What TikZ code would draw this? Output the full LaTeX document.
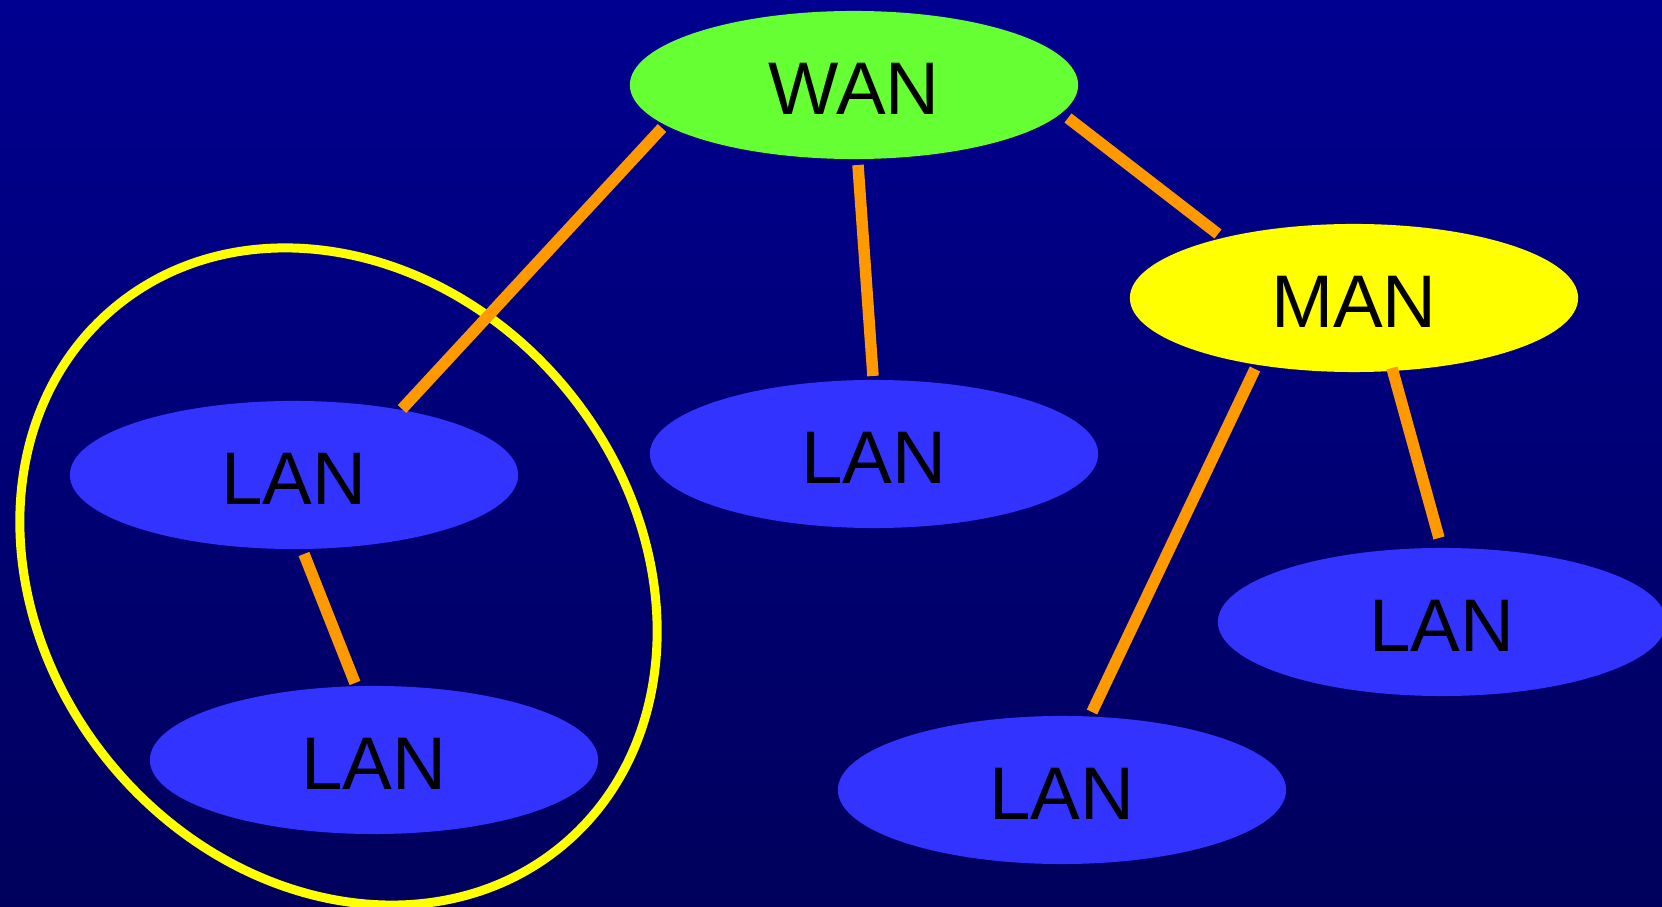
\documentclass[tikz,border=0pt]{standalone}
\usepackage{fontspec}
\setmainfont{Liberation Sans}
\usetikzlibrary{shapes.geometric}

\definecolor{bgtop}{RGB}{0,0,144}
\definecolor{bgbottom}{RGB}{0,0,92}
\definecolor{wangreen}{RGB}{102,255,51}
\definecolor{manyellow}{RGB}{255,255,0}
\definecolor{lanblue}{RGB}{51,51,255}
\definecolor{linkorange}{RGB}{255,153,0}
\definecolor{ringyellow}{RGB}{255,255,0}

\tikzset{
  net/.style={ellipse, draw=none, inner sep=0pt,
    minimum width=4.48cm, minimum height=1.48cm,
    text height=0.595cm, text depth=0pt,
    font=\fontsize{21.2}{25}\selectfont, text=black},
  wannet/.style={net, fill=wangreen},
  mannet/.style={net, fill=manyellow},
  lannet/.style={net, fill=lanblue},
  link/.style={draw=linkorange, line width=0.115cm},
  ring/.style={draw=ringyellow, line width=0.09cm}
}

\begin{document}
\begin{tikzpicture}[x=0.01cm, y=-0.01cm]
  % background
  \useasboundingbox (0,0) rectangle (1662,907);
  \fill[top color=bgtop, bottom color=bgbottom] (0,0) rectangle (1662,907);

  % networks
  \node[wannet] (wan)  at (854,85)   {WAN};
  \node[mannet] (man)  at (1354,298) {MAN};
  \node[lannet] (lana) at (294,475)  {LAN};
  \node[lannet] (lanb) at (874,454)  {LAN};
  \node[lannet] (lanc) at (374,760)  {LAN};
  \node[lannet] (land) at (1442,622) {LAN};
  \node[lannet] (lane) at (1062,790) {LAN};

  % tilted ring around the two grouped LANs
  \draw[ring] (338.5,576.5) ellipse [x radius=350, y radius=295, rotate=-50.2];

  % links
  \draw[link] ([shift={(-192,43)}]wan.center) -- ([shift={(108,-66)}]lana.center);
  \draw[link] ([shift={(4,80)}]wan.center)    -- ([shift={(-1,-78)}]lanb.center);
  \draw[link] ([shift={(214,33)}]wan.center)  -- ([shift={(-136,-64)}]man.center);
  \draw[link] ([shift={(-99,71)}]man.center)  -- ([shift={(30,-78)}]lane.center);
  \draw[link] ([shift={(38,70)}]man.center)   -- ([shift={(-3,-84)}]land.center);
  \draw[link] ([shift={(10,79)}]lana.center)  -- ([shift={(-19,-77)}]lanc.center);
\end{tikzpicture}
\end{document}
